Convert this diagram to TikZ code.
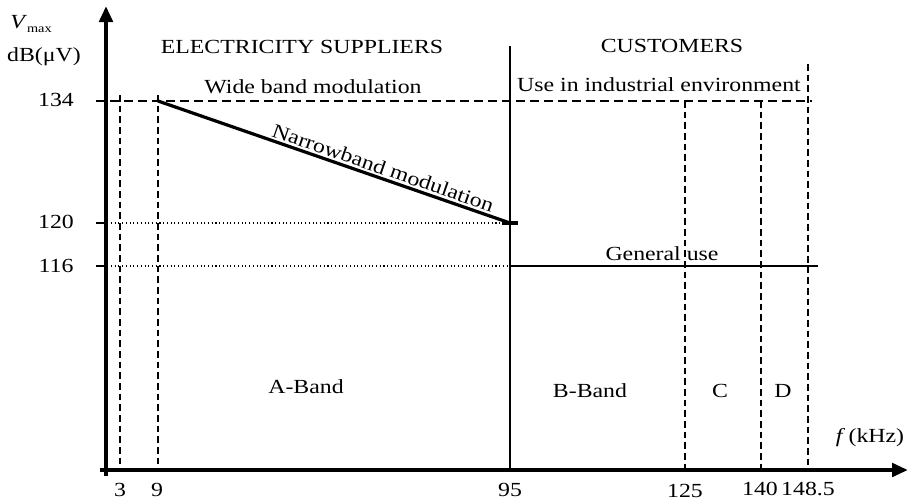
\documentclass[tikz,border=0pt]{standalone}
\usepackage{fontspec}
\setmainfont[FakeStretch=1.19]{Liberation Serif}
\usetikzlibrary{arrows.meta}
\begin{document}
\begin{tikzpicture}[x=0.75pt,y=-0.75pt,
  lbl/.style={font=\fontsize{15}{17}\selectfont, inner sep=1pt},
  axis/.style={line width=3.2pt,-{Triangle[length=12pt,width=10pt]}},
  vdash/.style={line width=2.1pt,dash pattern=on 5pt off 3pt},
  hdash/.style={line width=1.3pt,dash pattern=on 7pt off 3.5pt},
  hdot/.style={line width=0.8pt,dotted},
  solidl/.style={line width=1.9pt}]
\useasboundingbox (0,0) rectangle (909,500);
% key coordinates
\coordinate (O) at (106,470);
\coordinate (Ytop) at (106,6);
\coordinate (Xend) at (908,470);
\coordinate (y134l) at (96,101);
\coordinate (y134r) at (812,101);
\coordinate (y120l) at (96,223);
\coordinate (y116l) at (96,266);
\coordinate (p9) at (158,101);
\coordinate (p95) at (510,223);
\coordinate (p95b) at (510,266);
\coordinate (g116r) at (818,266);
% vertical lines
\coordinate (v3t) at (120,95);   \coordinate (v3b) at (120,470);
\coordinate (v9t) at (158,95);   \coordinate (v9b) at (158,470);
\coordinate (v95t) at (510,46);  \coordinate (v95b) at (510,470);
\coordinate (v125t) at (685,101);\coordinate (v125b) at (685,470);
\coordinate (v140t) at (761,101);\coordinate (v140b) at (761,470);
\coordinate (v148t) at (808,64); \coordinate (v148b) at (808,470);
% grid lines
\draw[hdash] (y134l) -- (y134r);
\draw[hdot] (y120l) -- (p95);
\draw[hdot] (y116l) -- (p95b);
\draw[solidl] (y120l) -- (106,223);
\draw[solidl] (y116l) -- (106,266);
\draw[solidl] (p95b) -- (g116r);
\draw[vdash] (v3t) -- (v3b);
\draw[vdash] (v9t) -- (v9b);
\draw[vdash] (v125t) -- (v125b);
\draw[vdash] (v140t) -- (v140b);
\draw[vdash] (v148t) -- (v148b);
\draw[solidl] (v95t) -- (v95b);
\draw[line width=2.4pt] (p9) -- node[lbl, pos=0.63, sloped, above, inner sep=1.5pt] (nb) {Narrowband modulation} (p95);
\draw[line width=2.8pt] (502,223) -- (518,223);
% axes
\draw[axis] (100,470) -- (Xend);
\draw[axis] (106,476) -- (Ytop);
% axis labels
\node[lbl] (vmax) at (31,24) {\textit{V}\raisebox{-0.5ex}{\fontsize{9}{10}\selectfont max}};
\node[lbl] (db) at (44,57) {dB(μV)};
\node[lbl] (fk) at (870,438) {\textit{f}\,(kHz)};
\node[lbl] (l134) at (56,100) {134};
\node[lbl] (l120) at (56,222) {120};
\node[lbl] (l116) at (56,266) {116};
\node[lbl] (x3) at (120,490) {3};
\node[lbl] (x9) at (157,490) {9};
\node[lbl] (x95) at (510,490) {95};
\node[lbl] (x125) at (685,491) {125};
\node[lbl] (x140) at (760,489) {140};
\node[lbl] (x148) at (808,489) {148.5};
% region labels
\node[lbl] (es) at (302,47) {ELECTRICITY SUPPLIERS};
\node[lbl] (cu) at (672,46) {CUSTOMERS};
\node[lbl] (wb) at (313,87) {Wide band modulation};
\node[lbl] (ui) at (659,85) {Use in industrial environment};
\node[lbl] (gu) at (662,254) {General use};
\node[lbl] (ab) at (306,387) {A-Band};
\node[lbl] (bb) at (590,391) {B-Band};
\node[lbl] (cb) at (720,391) {C};
\node[lbl] (dbd) at (783,391) {D};
\end{tikzpicture}
\end{document}
